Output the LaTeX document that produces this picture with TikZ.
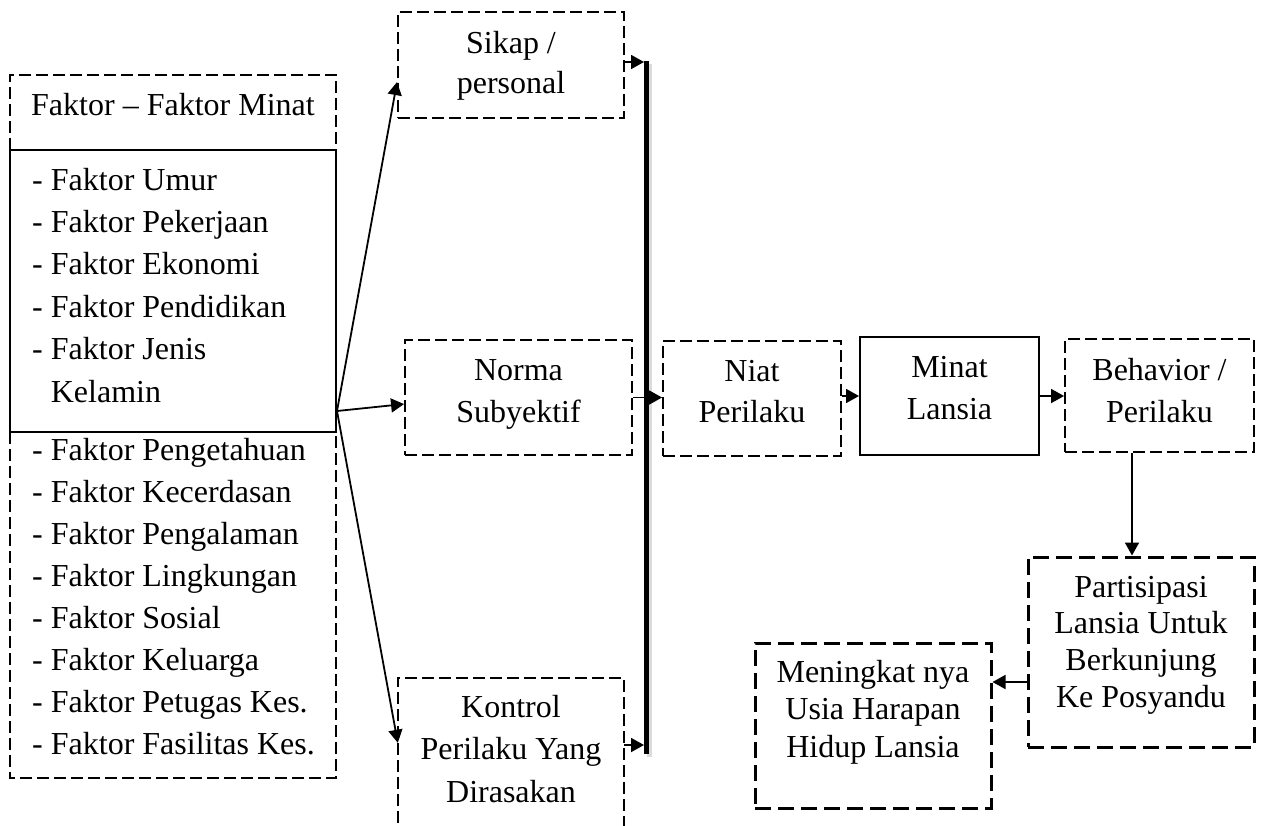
\documentclass[tikz,border=0pt]{standalone}
\usepackage{fontspec}
\setmainfont{Liberation Serif}
\usetikzlibrary{arrows.meta,calc}
\begin{document}
\begin{tikzpicture}[x=1pt,y=-1pt,
  dbox/.style={draw, dash pattern=on 12pt off 5pt, line width=1.9pt, inner sep=0pt},
  hbox/.style={draw, dash pattern=on 16pt off 7pt, line width=3pt, inner sep=0pt},
  sbox/.style={draw, line width=2pt, inner sep=0pt},
  nobox/.style={draw=none, inner sep=0pt},
  txt/.style={inner sep=0pt, align=center, font=\fontsize{32}{#1}\selectfont},
  ltxt/.style={inner sep=0pt, align=left, font=\fontsize{32}{#1}\selectfont},
  arr/.style={-{Triangle[length=13pt,width=14pt]}, line width=1.8pt},
  dline/.style={dash pattern=on 12pt off 5pt, line width=1.9pt}]
\useasboundingbox (0,0) rectangle (1263,825);

% left column
\node[nobox, minimum width=326pt, minimum height=75pt] (head) at (173,112.5) {};
\draw[dline] (head.south west) |- (head.north east) -- (head.south east);
\node[sbox, minimum width=326pt, minimum height=282pt] (solid) at (173,291) {};
\node[nobox, minimum width=326pt, minimum height=346pt] (low) at (173,605) {};
\draw[dline] (low.north west) |- (low.south east) -- (low.north east);

\node[txt=42, anchor=base west] (headT) at (31,115) {Faktor – Faktor Minat};
\node[ltxt=42.4, anchor=north west] (list1) at (32,160.3) {\strut- Faktor Umur\\- Faktor Pekerjaan\\- Faktor Ekonomi\\- Faktor Pendidikan\\- Faktor Jenis\\\hphantom{-}\ Kelamin};
\node[ltxt=42.1, anchor=north west] (list2) at (32,430.5) {\strut- Faktor Pengetahuan\\- Faktor Kecerdasan\\- Faktor Pengalaman\\- Faktor Lingkungan\\- Faktor Sosial\\- Faktor Keluarga\\- Faktor Petugas Kes.\\- Faktor Fasilitas Kes.};

% middle column
\node[dbox, minimum width=226pt, minimum height=106pt] (sikap) at (511,65) {};
\node[dbox, minimum width=227pt, minimum height=115pt] (norma) at (518.5,397.5) {};
\node[nobox, minimum width=226pt, minimum height=162pt] (kontrol) at (511,759) {};
\draw[dline] (kontrol.south west) |- (kontrol.north east) -- (kontrol.south east);

\node[txt=40, anchor=north] (sikapT) at (511,25) {\strut Sikap /\\personal};
\node[txt=42, anchor=north] (normaT) at (518.5,350.6) {\strut Norma\\Subyektif};
\node[txt=42.5, anchor=north] (kontrolT) at (511,687.25) {\strut Kontrol\\Perilaku Yang\\Dirasakan};

% bar
\coordinate (bartop) at (646.5,61);
\coordinate (barbot) at (646.5,754);
\draw[line width=5pt, black!20, opacity=0.7] ($(bartop)+(3,3)$) -- ($(barbot)+(3,3)$);
\draw[line width=5pt] (bartop) -- (barbot);

% right part
\node[dbox, minimum width=178pt, minimum height=115pt] (niat) at (752,398.5) {};
\node[sbox, minimum width=179pt, minimum height=118pt] (minat) at (949.5,396) {};
\node[dbox, minimum width=189pt, minimum height=113pt] (behav) at (1159.5,395.5) {};
\node[hbox, minimum width=226pt, minimum height=190pt] (partis) at (1141,652) {};
\node[hbox, minimum width=236pt, minimum height=165pt] (mening) at (873,725.5) {};

\node[txt=41, anchor=north] (niatT) at (752,352.3) {\strut Niat\\Perilaku};
\node[txt=42, anchor=north] (minatT) at (949.5,347.6) {\strut Minat\\Lansia};
\node[txt=42, anchor=north] (behavT) at (1159.5,350.6) {\strut Behavior /\\Perilaku};
\node[txt=36.7, anchor=north] (partisT) at (1141,571.3) {\strut Partisipasi\\Lansia Untuk\\Berkunjung\\Ke Posyandu};
\node[txt=37.5, anchor=north] (meningT) at (873,655.75) {\strut Meningkat nya\\Usia Harapan\\Hidup Lansia};

% connectors
\coordinate (src) at (337,411);
\draw[arr] (src) -- ($(sikap.north west)+(0,71)$);
\draw[arr] (src) -- ($(norma.north west)+(0,65)$);
\draw[arr] (src) -- ($(kontrol.north west)+(0,65)$);

\coordinate (barS) at (644,62);
\coordinate (barK) at (644,745);
\draw[arr] (sikap.east |- barS) -- (barS);
\draw[arr] (kontrol.east |- barK) -- (barK);
\draw[arr] (norma.east) -- (niat.west |- norma.east);
\draw[arr] (niat.east |- minat.west) -- (minat.west);
\draw[arr] (minat.east) -- (behav.west |- minat.east);
\coordinate (bp) at (1132,0);
\draw[arr] (behav.south -| bp) -- (partis.north -| bp);
\coordinate (pm) at (0,682);
\draw[arr] (partis.west |- pm) -- (mening.east |- pm);
\end{tikzpicture}
\end{document}
